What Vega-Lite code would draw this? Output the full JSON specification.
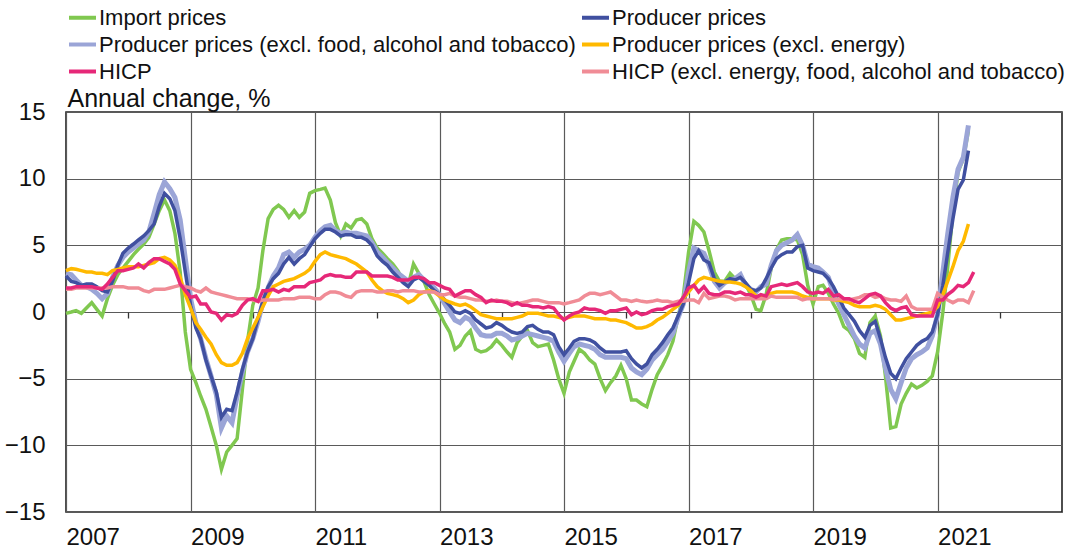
{
"$schema": "https://vega.github.io/schema/vega-lite/v6.json",
"width": 996, "height": 400,
"autosize": {"type": "none"},
"padding": {"left": 66, "top": 112, "right": 5, "bottom": 39},
"background": "white",
"config": {"font": "Liberation Sans", "view": {"stroke": "#222", "strokeWidth": 1.6}},
"data": {"values": [
{"d":"2007-01-01","ip":-0.1,"pp":2.7,"ppf":2.9,"ppe":3.1,"h":1.8,"hc":1.7},
{"d":"2007-02-01","ip":0.0,"pp":2.3,"ppf":2.8,"ppe":3.25,"h":1.8,"hc":1.7},
{"d":"2007-03-01","ip":0.1,"pp":2.2,"ppf":2.4,"ppe":3.2,"h":1.9,"hc":1.8},
{"d":"2007-04-01","ip":-0.1,"pp":2.0,"ppf":2.0,"ppe":3.1,"h":1.9,"hc":1.8},
{"d":"2007-05-01","ip":0.3,"pp":2.1,"ppf":1.9,"ppe":3.0,"h":1.9,"hc":1.8},
{"d":"2007-06-01","ip":0.7,"pp":2.1,"ppf":1.7,"ppe":3.0,"h":1.9,"hc":1.8},
{"d":"2007-07-01","ip":0.2,"pp":1.9,"ppf":1.4,"ppe":2.9,"h":1.8,"hc":1.8},
{"d":"2007-08-01","ip":-0.3,"pp":1.6,"ppf":1.0,"ppe":2.9,"h":1.7,"hc":1.8},
{"d":"2007-09-01","ip":1.0,"pp":1.5,"ppf":1.4,"ppe":2.8,"h":2.1,"hc":1.8},
{"d":"2007-10-01","ip":2.0,"pp":2.3,"ppf":2.6,"ppe":3.1,"h":2.6,"hc":1.9},
{"d":"2007-11-01","ip":2.8,"pp":3.5,"ppf":3.5,"ppe":3.2,"h":3.1,"hc":1.9},
{"d":"2007-12-01","ip":3.3,"pp":4.4,"ppf":4.1,"ppe":3.3,"h":3.1,"hc":1.9},
{"d":"2008-01-01","ip":3.8,"pp":4.8,"ppf":4.5,"ppe":3.4,"h":3.2,"hc":1.8},
{"d":"2008-02-01","ip":4.3,"pp":5.1,"ppf":4.8,"ppe":3.4,"h":3.3,"hc":1.8},
{"d":"2008-03-01","ip":4.7,"pp":5.4,"ppf":5.1,"ppe":3.4,"h":3.6,"hc":1.8},
{"d":"2008-04-01","ip":5.1,"pp":5.7,"ppf":5.4,"ppe":3.5,"h":3.3,"hc":1.6},
{"d":"2008-05-01","ip":5.6,"pp":6.1,"ppf":6.0,"ppe":3.6,"h":3.7,"hc":1.5},
{"d":"2008-06-01","ip":6.6,"pp":6.6,"ppf":7.4,"ppe":3.7,"h":4.0,"hc":1.7},
{"d":"2008-07-01","ip":7.6,"pp":7.9,"ppf":8.8,"ppe":4.0,"h":4.0,"hc":1.7},
{"d":"2008-08-01","ip":8.4,"pp":8.9,"ppf":9.75,"ppe":4.1,"h":3.8,"hc":1.7},
{"d":"2008-09-01","ip":7.6,"pp":8.5,"ppf":9.25,"ppe":3.9,"h":3.6,"hc":1.8},
{"d":"2008-10-01","ip":5.9,"pp":7.6,"ppf":8.6,"ppe":3.5,"h":3.2,"hc":1.9},
{"d":"2008-11-01","ip":3.0,"pp":5.5,"ppf":6.9,"ppe":2.6,"h":2.1,"hc":2.0},
{"d":"2008-12-01","ip":-1.5,"pp":3.0,"ppf":4.0,"ppe":1.3,"h":1.6,"hc":1.9},
{"d":"2009-01-01","ip":-4.3,"pp":0.5,"ppf":1.0,"ppe":0.3,"h":1.1,"hc":1.8},
{"d":"2009-02-01","ip":-5.3,"pp":-1.2,"ppf":-0.8,"ppe":-0.8,"h":1.2,"hc":1.6},
{"d":"2009-03-01","ip":-6.3,"pp":-2.0,"ppf":-2.0,"ppe":-1.3,"h":0.6,"hc":1.5},
{"d":"2009-04-01","ip":-7.3,"pp":-3.6,"ppf":-3.5,"ppe":-1.9,"h":0.6,"hc":1.8},
{"d":"2009-05-01","ip":-8.6,"pp":-4.8,"ppf":-4.8,"ppe":-2.4,"h":0.0,"hc":1.5},
{"d":"2009-06-01","ip":-10.0,"pp":-6.0,"ppf":-6.2,"ppe":-3.2,"h":-0.1,"hc":1.4},
{"d":"2009-07-01","ip":-11.8,"pp":-7.9,"ppf":-8.7,"ppe":-3.8,"h":-0.6,"hc":1.3},
{"d":"2009-08-01","ip":-10.5,"pp":-7.3,"ppf":-7.8,"ppe":-4.0,"h":-0.2,"hc":1.2},
{"d":"2009-09-01","ip":-10.0,"pp":-7.4,"ppf":-8.3,"ppe":-4.0,"h":-0.3,"hc":1.1},
{"d":"2009-10-01","ip":-9.5,"pp":-6.0,"ppf":-6.3,"ppe":-3.8,"h":-0.1,"hc":1.0},
{"d":"2009-11-01","ip":-5.8,"pp":-4.3,"ppf":-4.5,"ppe":-3.1,"h":0.5,"hc":1.0},
{"d":"2009-12-01","ip":-2.2,"pp":-3.0,"ppf":-3.0,"ppe":-2.0,"h":0.9,"hc":1.0},
{"d":"2010-01-01","ip":0.5,"pp":-2.0,"ppf":-2.0,"ppe":-1.2,"h":1.0,"hc":0.9},
{"d":"2010-02-01","ip":1.8,"pp":-0.5,"ppf":-0.7,"ppe":-0.4,"h":0.8,"hc":0.8},
{"d":"2010-03-01","ip":4.6,"pp":0.8,"ppf":0.7,"ppe":0.4,"h":1.6,"hc":0.9},
{"d":"2010-04-01","ip":7.0,"pp":1.9,"ppf":1.8,"ppe":1.2,"h":1.6,"hc":0.9},
{"d":"2010-05-01","ip":7.7,"pp":2.5,"ppf":2.7,"ppe":1.9,"h":1.7,"hc":0.9},
{"d":"2010-06-01","ip":8.0,"pp":2.9,"ppf":3.3,"ppe":2.1,"h":1.5,"hc":0.9},
{"d":"2010-07-01","ip":7.7,"pp":3.6,"ppf":4.3,"ppe":2.3,"h":1.7,"hc":1.0},
{"d":"2010-08-01","ip":7.1,"pp":4.1,"ppf":4.5,"ppe":2.4,"h":1.6,"hc":1.0},
{"d":"2010-09-01","ip":7.6,"pp":3.6,"ppf":4.1,"ppe":2.5,"h":1.9,"hc":1.0},
{"d":"2010-10-01","ip":7.1,"pp":4.0,"ppf":4.5,"ppe":2.7,"h":1.9,"hc":1.1},
{"d":"2010-11-01","ip":7.5,"pp":4.3,"ppf":4.7,"ppe":2.9,"h":1.9,"hc":1.1},
{"d":"2010-12-01","ip":8.9,"pp":4.9,"ppf":5.0,"ppe":3.2,"h":2.2,"hc":1.1},
{"d":"2011-01-01","ip":9.1,"pp":5.5,"ppf":5.6,"ppe":3.8,"h":2.3,"hc":1.0},
{"d":"2011-02-01","ip":9.2,"pp":5.9,"ppf":6.1,"ppe":4.3,"h":2.4,"hc":1.0},
{"d":"2011-03-01","ip":9.3,"pp":6.2,"ppf":6.4,"ppe":4.5,"h":2.7,"hc":1.3},
{"d":"2011-04-01","ip":8.4,"pp":6.2,"ppf":6.5,"ppe":4.3,"h":2.8,"hc":1.5},
{"d":"2011-05-01","ip":6.7,"pp":6.0,"ppf":6.1,"ppe":4.2,"h":2.7,"hc":1.5},
{"d":"2011-06-01","ip":5.7,"pp":5.7,"ppf":5.9,"ppe":4.1,"h":2.7,"hc":1.4},
{"d":"2011-07-01","ip":6.6,"pp":5.8,"ppf":6.0,"ppe":4.0,"h":2.6,"hc":1.2},
{"d":"2011-08-01","ip":6.3,"pp":5.8,"ppf":5.9,"ppe":3.8,"h":2.6,"hc":1.1},
{"d":"2011-09-01","ip":6.9,"pp":5.6,"ppf":5.9,"ppe":3.6,"h":3.0,"hc":1.5},
{"d":"2011-10-01","ip":7.0,"pp":5.6,"ppf":5.8,"ppe":3.3,"h":3.0,"hc":1.6},
{"d":"2011-11-01","ip":6.6,"pp":5.4,"ppf":5.7,"ppe":3.0,"h":3.0,"hc":1.6},
{"d":"2011-12-01","ip":5.5,"pp":5.0,"ppf":5.2,"ppe":2.4,"h":2.7,"hc":1.6},
{"d":"2012-01-01","ip":4.8,"pp":4.2,"ppf":4.5,"ppe":1.9,"h":2.7,"hc":1.5},
{"d":"2012-02-01","ip":4.4,"pp":3.8,"ppf":4.1,"ppe":1.6,"h":2.7,"hc":1.5},
{"d":"2012-03-01","ip":4.0,"pp":3.5,"ppf":3.7,"ppe":1.4,"h":2.7,"hc":1.6},
{"d":"2012-04-01","ip":3.6,"pp":3.0,"ppf":3.3,"ppe":1.3,"h":2.6,"hc":1.6},
{"d":"2012-05-01","ip":3.1,"pp":2.6,"ppf":2.9,"ppe":1.2,"h":2.4,"hc":1.5},
{"d":"2012-06-01","ip":2.4,"pp":2.2,"ppf":2.6,"ppe":1.0,"h":2.4,"hc":1.6},
{"d":"2012-07-01","ip":2.0,"pp":1.9,"ppf":2.3,"ppe":0.7,"h":2.4,"hc":1.6},
{"d":"2012-08-01","ip":3.6,"pp":2.4,"ppf":2.6,"ppe":0.9,"h":2.6,"hc":1.6},
{"d":"2012-09-01","ip":2.9,"pp":2.6,"ppf":2.8,"ppe":1.3,"h":2.6,"hc":1.5},
{"d":"2012-10-01","ip":2.3,"pp":2.3,"ppf":2.4,"ppe":1.5,"h":2.5,"hc":1.5},
{"d":"2012-11-01","ip":1.3,"pp":2.0,"ppf":2.1,"ppe":1.6,"h":2.2,"hc":1.5},
{"d":"2012-12-01","ip":0.6,"pp":1.6,"ppf":1.8,"ppe":1.5,"h":2.2,"hc":1.5},
{"d":"2013-01-01","ip":-0.1,"pp":1.3,"ppf":1.3,"ppe":1.2,"h":2.0,"hc":1.3},
{"d":"2013-02-01","ip":-0.9,"pp":0.9,"ppf":0.6,"ppe":0.9,"h":1.8,"hc":1.3},
{"d":"2013-03-01","ip":-1.5,"pp":0.5,"ppf":0.0,"ppe":0.75,"h":1.7,"hc":1.4},
{"d":"2013-04-01","ip":-2.8,"pp":0.0,"ppf":-0.6,"ppe":0.6,"h":1.2,"hc":1.2},
{"d":"2013-05-01","ip":-2.5,"pp":-0.1,"ppf":-0.8,"ppe":0.5,"h":1.4,"hc":1.1},
{"d":"2013-06-01","ip":-1.8,"pp":0.1,"ppf":-0.4,"ppe":0.6,"h":1.6,"hc":1.1},
{"d":"2013-07-01","ip":-1.4,"pp":-0.1,"ppf":-0.6,"ppe":0.4,"h":1.6,"hc":1.0},
{"d":"2013-08-01","ip":-2.8,"pp":-0.6,"ppf":-1.2,"ppe":0.1,"h":1.3,"hc":0.9},
{"d":"2013-09-01","ip":-3.0,"pp":-0.9,"ppf":-1.7,"ppe":-0.2,"h":1.1,"hc":0.9},
{"d":"2013-10-01","ip":-2.9,"pp":-1.2,"ppf":-1.8,"ppe":-0.3,"h":0.7,"hc":0.8},
{"d":"2013-11-01","ip":-2.6,"pp":-1.1,"ppf":-1.8,"ppe":-0.4,"h":0.9,"hc":0.8},
{"d":"2013-12-01","ip":-2.1,"pp":-0.8,"ppf":-1.6,"ppe":-0.5,"h":0.8,"hc":0.9},
{"d":"2014-01-01","ip":-2.5,"pp":-1.0,"ppf":-1.6,"ppe":-0.5,"h":0.8,"hc":0.8},
{"d":"2014-02-01","ip":-3.0,"pp":-1.3,"ppf":-1.8,"ppe":-0.5,"h":0.7,"hc":0.8},
{"d":"2014-03-01","ip":-3.4,"pp":-1.5,"ppf":-2.1,"ppe":-0.5,"h":0.5,"hc":0.7},
{"d":"2014-04-01","ip":-2.3,"pp":-1.6,"ppf":-2.0,"ppe":-0.4,"h":0.7,"hc":0.6},
{"d":"2014-05-01","ip":-1.8,"pp":-1.5,"ppf":-1.8,"ppe":-0.3,"h":0.5,"hc":0.7},
{"d":"2014-06-01","ip":-1.4,"pp":-1.1,"ppf":-1.6,"ppe":-0.1,"h":0.5,"hc":0.8},
{"d":"2014-07-01","ip":-2.3,"pp":-1.0,"ppf":-1.7,"ppe":-0.1,"h":0.4,"hc":0.9},
{"d":"2014-08-01","ip":-2.6,"pp":-1.3,"ppf":-1.8,"ppe":-0.1,"h":0.4,"hc":0.9},
{"d":"2014-09-01","ip":-2.5,"pp":-1.5,"ppf":-1.9,"ppe":-0.2,"h":0.3,"hc":0.8},
{"d":"2014-10-01","ip":-2.4,"pp":-1.5,"ppf":-2.0,"ppe":-0.3,"h":0.4,"hc":0.7},
{"d":"2014-11-01","ip":-3.6,"pp":-1.7,"ppf":-2.2,"ppe":-0.3,"h":0.3,"hc":0.7},
{"d":"2014-12-01","ip":-5.0,"pp":-2.6,"ppf":-3.0,"ppe":-0.4,"h":-0.2,"hc":0.7},
{"d":"2015-01-01","ip":-6.1,"pp":-3.2,"ppf":-3.7,"ppe":-0.5,"h":-0.6,"hc":0.6},
{"d":"2015-02-01","ip":-4.5,"pp":-2.7,"ppf":-3.1,"ppe":-0.4,"h":-0.3,"hc":0.7},
{"d":"2015-03-01","ip":-3.7,"pp":-2.2,"ppf":-2.6,"ppe":-0.3,"h":-0.1,"hc":0.8},
{"d":"2015-04-01","ip":-2.8,"pp":-2.0,"ppf":-2.4,"ppe":-0.3,"h":0.0,"hc":0.9},
{"d":"2015-05-01","ip":-3.1,"pp":-2.0,"ppf":-2.5,"ppe":-0.3,"h":0.3,"hc":1.2},
{"d":"2015-06-01","ip":-3.6,"pp":-2.1,"ppf":-2.6,"ppe":-0.4,"h":0.2,"hc":1.4},
{"d":"2015-07-01","ip":-3.9,"pp":-2.3,"ppf":-2.8,"ppe":-0.5,"h":0.2,"hc":1.4},
{"d":"2015-08-01","ip":-5.0,"pp":-2.7,"ppf":-3.2,"ppe":-0.5,"h":0.1,"hc":1.3},
{"d":"2015-09-01","ip":-5.9,"pp":-3.0,"ppf":-3.4,"ppe":-0.5,"h":-0.1,"hc":1.4},
{"d":"2015-10-01","ip":-5.3,"pp":-3.0,"ppf":-3.4,"ppe":-0.6,"h":0.1,"hc":1.5},
{"d":"2015-11-01","ip":-4.8,"pp":-3.0,"ppf":-3.4,"ppe":-0.6,"h":0.1,"hc":1.2},
{"d":"2015-12-01","ip":-4.0,"pp":-3.0,"ppf":-3.4,"ppe":-0.7,"h":0.2,"hc":0.9},
{"d":"2016-01-01","ip":-5.0,"pp":-2.9,"ppf":-3.5,"ppe":-0.8,"h":0.3,"hc":0.9},
{"d":"2016-02-01","ip":-6.6,"pp":-3.5,"ppf":-4.2,"ppe":-1.0,"h":-0.2,"hc":0.8},
{"d":"2016-03-01","ip":-6.6,"pp":-3.9,"ppf":-4.5,"ppe":-1.2,"h":0.0,"hc":0.9},
{"d":"2016-04-01","ip":-6.9,"pp":-4.2,"ppf":-4.7,"ppe":-1.2,"h":-0.2,"hc":0.8},
{"d":"2016-05-01","ip":-7.1,"pp":-3.9,"ppf":-4.3,"ppe":-1.1,"h":-0.1,"hc":0.75},
{"d":"2016-06-01","ip":-5.8,"pp":-3.2,"ppf":-3.6,"ppe":-0.9,"h":0.1,"hc":0.8},
{"d":"2016-07-01","ip":-4.7,"pp":-2.8,"ppf":-3.2,"ppe":-0.6,"h":0.2,"hc":0.9},
{"d":"2016-08-01","ip":-4.0,"pp":-2.3,"ppf":-2.8,"ppe":-0.4,"h":0.2,"hc":0.8},
{"d":"2016-09-01","ip":-3.2,"pp":-1.7,"ppf":-2.2,"ppe":-0.1,"h":0.4,"hc":0.8},
{"d":"2016-10-01","ip":-2.2,"pp":-1.2,"ppf":-1.6,"ppe":0.2,"h":0.5,"hc":0.7},
{"d":"2016-11-01","ip":-0.3,"pp":-0.3,"ppf":-0.4,"ppe":0.5,"h":0.6,"hc":0.8},
{"d":"2016-12-01","ip":1.2,"pp":0.6,"ppf":0.6,"ppe":1.0,"h":1.1,"hc":0.8},
{"d":"2017-01-01","ip":4.5,"pp":2.2,"ppf":3.0,"ppe":1.5,"h":1.8,"hc":0.9},
{"d":"2017-02-01","ip":6.8,"pp":4.0,"ppf":4.8,"ppe":2.0,"h":2.0,"hc":0.9},
{"d":"2017-03-01","ip":6.5,"pp":4.6,"ppf":4.6,"ppe":2.4,"h":1.5,"hc":0.7},
{"d":"2017-04-01","ip":6.0,"pp":3.9,"ppf":4.4,"ppe":2.6,"h":1.9,"hc":1.4},
{"d":"2017-05-01","ip":4.6,"pp":3.7,"ppf":3.5,"ppe":2.5,"h":1.4,"hc":1.0},
{"d":"2017-06-01","ip":3.0,"pp":2.5,"ppf":2.3,"ppe":2.4,"h":1.3,"hc":1.1},
{"d":"2017-07-01","ip":2.3,"pp":2.0,"ppf":1.8,"ppe":2.3,"h":1.3,"hc":1.2},
{"d":"2017-08-01","ip":2.3,"pp":2.25,"ppf":2.2,"ppe":2.25,"h":1.5,"hc":1.2},
{"d":"2017-09-01","ip":2.9,"pp":2.5,"ppf":2.4,"ppe":2.25,"h":1.5,"hc":1.1},
{"d":"2017-10-01","ip":2.5,"pp":2.4,"ppf":2.5,"ppe":2.2,"h":1.4,"hc":0.9},
{"d":"2017-11-01","ip":2.8,"pp":2.6,"ppf":2.8,"ppe":2.1,"h":1.5,"hc":1.0},
{"d":"2017-12-01","ip":2.1,"pp":2.2,"ppf":2.0,"ppe":1.9,"h":1.3,"hc":1.0},
{"d":"2018-01-01","ip":1.3,"pp":1.7,"ppf":1.7,"ppe":1.6,"h":1.3,"hc":1.0},
{"d":"2018-02-01","ip":0.2,"pp":1.6,"ppf":1.5,"ppe":1.2,"h":1.1,"hc":1.0},
{"d":"2018-03-01","ip":0.1,"pp":1.8,"ppf":1.9,"ppe":1.1,"h":1.3,"hc":1.0},
{"d":"2018-04-01","ip":1.3,"pp":2.5,"ppf":2.1,"ppe":1.2,"h":1.2,"hc":1.0},
{"d":"2018-05-01","ip":3.3,"pp":3.3,"ppf":3.5,"ppe":1.4,"h":1.9,"hc":1.2},
{"d":"2018-06-01","ip":4.7,"pp":4.0,"ppf":4.6,"ppe":1.5,"h":2.0,"hc":1.1},
{"d":"2018-07-01","ip":5.4,"pp":4.3,"ppf":5.0,"ppe":1.5,"h":2.1,"hc":1.1},
{"d":"2018-08-01","ip":5.5,"pp":4.5,"ppf":5.2,"ppe":1.5,"h":2.0,"hc":1.1},
{"d":"2018-09-01","ip":5.5,"pp":4.5,"ppf":5.4,"ppe":1.5,"h":2.1,"hc":1.1},
{"d":"2018-10-01","ip":5.4,"pp":4.9,"ppf":5.8,"ppe":1.4,"h":2.2,"hc":1.1},
{"d":"2018-11-01","ip":4.3,"pp":5.0,"ppf":5.0,"ppe":1.2,"h":1.9,"hc":0.9},
{"d":"2018-12-01","ip":2.0,"pp":3.3,"ppf":3.6,"ppe":1.1,"h":1.5,"hc":1.0},
{"d":"2019-01-01","ip":0.6,"pp":3.1,"ppf":3.4,"ppe":1.0,"h":1.4,"hc":1.0},
{"d":"2019-02-01","ip":1.9,"pp":3.0,"ppf":3.3,"ppe":1.0,"h":1.5,"hc":1.0},
{"d":"2019-03-01","ip":2.0,"pp":2.9,"ppf":3.0,"ppe":1.0,"h":1.4,"hc":1.0},
{"d":"2019-04-01","ip":1.4,"pp":2.5,"ppf":2.6,"ppe":1.0,"h":1.7,"hc":1.0},
{"d":"2019-05-01","ip":0.6,"pp":1.9,"ppf":1.5,"ppe":0.9,"h":1.2,"hc":0.9},
{"d":"2019-06-01","ip":-0.1,"pp":1.1,"ppf":0.6,"ppe":0.9,"h":1.3,"hc":1.0},
{"d":"2019-07-01","ip":-1.1,"pp":0.3,"ppf":-0.2,"ppe":0.8,"h":1.0,"hc":1.0},
{"d":"2019-08-01","ip":-1.4,"pp":-0.2,"ppf":-1.0,"ppe":0.7,"h":1.0,"hc":0.9},
{"d":"2019-09-01","ip":-2.0,"pp":-0.7,"ppf":-1.8,"ppe":0.5,"h":0.8,"hc":1.0},
{"d":"2019-10-01","ip":-3.1,"pp":-1.4,"ppf":-2.4,"ppe":0.4,"h":0.7,"hc":1.1},
{"d":"2019-11-01","ip":-3.4,"pp":-1.9,"ppf":-2.7,"ppe":0.4,"h":1.0,"hc":1.3},
{"d":"2019-12-01","ip":-0.8,"pp":-1.0,"ppf":-1.6,"ppe":0.4,"h":1.3,"hc":1.3},
{"d":"2020-01-01","ip":-0.3,"pp":-0.7,"ppf":-1.4,"ppe":0.5,"h":1.4,"hc":1.1},
{"d":"2020-02-01","ip":-1.8,"pp":-2.0,"ppf":-2.4,"ppe":0.4,"h":1.2,"hc":1.2},
{"d":"2020-03-01","ip":-4.8,"pp":-3.4,"ppf":-4.2,"ppe":0.2,"h":0.7,"hc":1.0},
{"d":"2020-04-01","ip":-8.7,"pp":-4.6,"ppf":-5.8,"ppe":-0.2,"h":0.3,"hc":0.9},
{"d":"2020-05-01","ip":-8.6,"pp":-5.0,"ppf":-6.5,"ppe":-0.6,"h":0.1,"hc":0.9},
{"d":"2020-06-01","ip":-6.9,"pp":-4.2,"ppf":-5.3,"ppe":-0.6,"h":0.3,"hc":0.8},
{"d":"2020-07-01","ip":-6.1,"pp":-3.5,"ppf":-4.2,"ppe":-0.5,"h":0.4,"hc":1.2},
{"d":"2020-08-01","ip":-5.4,"pp":-3.0,"ppf":-3.5,"ppe":-0.4,"h":-0.2,"hc":0.4},
{"d":"2020-09-01","ip":-5.7,"pp":-2.5,"ppf":-3.2,"ppe":-0.3,"h":-0.3,"hc":0.2},
{"d":"2020-10-01","ip":-5.5,"pp":-2.2,"ppf":-3.0,"ppe":-0.2,"h":-0.3,"hc":0.2},
{"d":"2020-11-01","ip":-5.2,"pp":-2.0,"ppf":-2.7,"ppe":-0.1,"h":-0.3,"hc":0.2},
{"d":"2020-12-01","ip":-4.8,"pp":-1.5,"ppf":-1.8,"ppe":0.0,"h":-0.3,"hc":0.2},
{"d":"2021-01-01","ip":-3.0,"pp":-0.2,"ppf":-0.2,"ppe":0.4,"h":0.9,"hc":1.4},
{"d":"2021-02-01","ip":0.0,"pp":2.0,"ppf":3.0,"ppe":1.3,"h":0.9,"hc":1.1},
{"d":"2021-03-01","ip":3.3,"pp":4.4,"ppf":5.8,"ppe":2.3,"h":1.3,"hc":0.9},
{"d":"2021-04-01","ip":7.5,"pp":7.0,"ppf":8.6,"ppe":3.4,"h":1.6,"hc":0.7},
{"d":"2021-05-01","ip":10.5,"pp":9.2,"ppf":10.7,"ppe":4.6,"h":2.0,"hc":0.9},
{"d":"2021-06-01","ip":11.5,"pp":9.9,"ppf":11.6,"ppe":5.3,"h":1.9,"hc":0.9},
{"d":"2021-07-01","ip":13.6,"pp":12.1,"ppf":14.0,"ppe":6.6,"h":2.2,"hc":0.7},
{"d":"2021-08-01","h":3.0,"hc":1.6}
]},
"transform": [{"fold": ["ip","pp","ppf","ppe","h","hc"], "as": ["k","v"]}],
"encoding": {
  "y": {"field": "v", "type": "quantitative", "scale": {"domain": [-15, 15], "nice": false, "zero": false},
    "axis": {"values": [-15,-10,-5,0,5,10,15], "grid": true, "gridColor": "#5a5a5a", "gridWidth": 1.2, "ticks": false, "domain": false,
      "labelFontSize": 24, "labelPadding": 21, "labelColor": "#111",
      "title": "Annual change, %", "titleAngle": 0, "titleAlign": "left", "titleBaseline": "alphabetic", "titleX": 1, "titleY": -6,
      "titleFontSize": 25, "titleFontWeight": "normal", "titleColor": "#111"}},
  "color": {"field": "k", "type": "nominal",
    "scale": {"domain": ["ip","pp","ppf","ppe","h","hc"], "range": ["#80c850","#4050a0","#9ba5d7","#ffb900","#e62878","#f08c96"]},
    "legend": {"orient": "none", "legendX": 1, "legendY": -110, "direction": "horizontal", "columns": 2, "title": null,
      "symbolType": "stroke", "symbolStrokeWidth": 4, "symbolSize": 729, "labelFontSize": 22, "labelColor": "#111", "labelOffset": 1,
      "labelLimit": 700, "columnPadding": -2, "rowPadding": 0,
      "labelExpr": "datum.value == 'ip' ? 'Import prices' : datum.value == 'pp' ? 'Producer prices' : datum.value == 'ppf' ? 'Producer prices (excl. food, alcohol and tobacco)' : datum.value == 'ppe' ? 'Producer prices (excl. energy)' : datum.value == 'h' ? 'HICP' : 'HICP (excl. energy, food, alcohol and tobacco)'"}}
},
"layer": [
  {"transform": [{"filter": "datum.k == 'ip'"}], "mark": {"type": "line", "strokeWidth": 3.5},
   "encoding": {"x": {"field": "d", "type": "temporal",
     "scale": {"type": "utc", "domain": [{"year": 2007, "month": 1, "date": 1, "utc": true}, {"year": 2023, "month": 1, "date": 1, "utc": true}]},
     "axis": {"values": [{"year": 2007, "month": 1, "date": 1, "utc": true}, {"year": 2009, "month": 1, "date": 1, "utc": true}, {"year": 2011, "month": 1, "date": 1, "utc": true}, {"year": 2013, "month": 1, "date": 1, "utc": true}, {"year": 2015, "month": 1, "date": 1, "utc": true}, {"year": 2017, "month": 1, "date": 1, "utc": true}, {"year": 2019, "month": 1, "date": 1, "utc": true}, {"year": 2021, "month": 1, "date": 1, "utc": true}],
       "format": "%Y", "formatType": "utc", "labelAlign": "left", "labelFontSize": 24, "labelPadding": 13, "labelColor": "#111", "labelFlush": false,
       "grid": true, "gridColor": "#5a5a5a", "gridWidth": 1.2, "ticks": false, "domain": false, "title": null}}}},
  {"transform": [{"filter": "datum.k == 'ppf'"}], "mark": {"type": "line", "strokeWidth": 5},
   "encoding": {"x": {"field": "d", "type": "temporal", "scale": {"type": "utc"}, "axis": null}}},
  {"transform": [{"filter": "datum.k == 'pp'"}], "mark": {"type": "line", "strokeWidth": 3.5},
   "encoding": {"x": {"field": "d", "type": "temporal", "scale": {"type": "utc"}, "axis": null}}},
  {"transform": [{"filter": "datum.k == 'ppe'"}], "mark": {"type": "line", "strokeWidth": 3.5},
   "encoding": {"x": {"field": "d", "type": "temporal", "scale": {"type": "utc"}, "axis": null}}},
  {"transform": [{"filter": "datum.k == 'hc'"}], "mark": {"type": "line", "strokeWidth": 3.5},
   "encoding": {"x": {"field": "d", "type": "temporal", "scale": {"type": "utc"}, "axis": null}}},
  {"transform": [{"filter": "datum.k == 'h'"}], "mark": {"type": "line", "strokeWidth": 3.5},
   "encoding": {"x": {"field": "d", "type": "temporal", "scale": {"type": "utc"},
     "axis": {"values": [{"year": 2008, "month": 1, "date": 1, "utc": true}, {"year": 2010, "month": 1, "date": 1, "utc": true}, {"year": 2012, "month": 1, "date": 1, "utc": true}, {"year": 2014, "month": 1, "date": 1, "utc": true}, {"year": 2016, "month": 1, "date": 1, "utc": true}, {"year": 2018, "month": 1, "date": 1, "utc": true}, {"year": 2020, "month": 1, "date": 1, "utc": true}, {"year": 2022, "month": 1, "date": 1, "utc": true}],
       "labels": false, "grid": false, "domain": false, "ticks": true, "tickSize": -6, "tickColor": "#333", "tickWidth": 1.3, "offset": -200, "title": null}}}}
],
"resolve": {"axis": {"x": "independent"}}
}
